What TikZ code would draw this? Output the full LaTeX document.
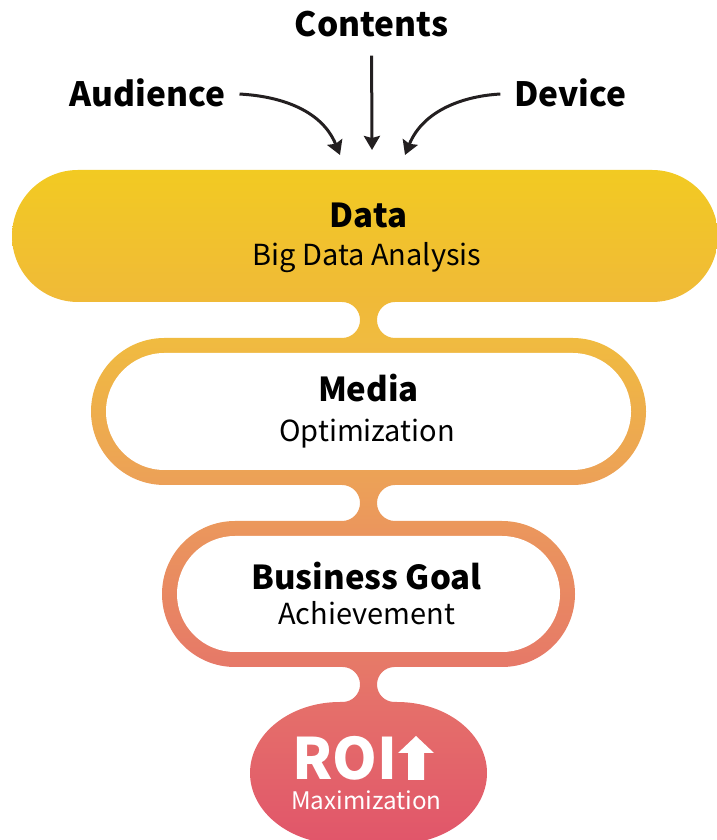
\documentclass[tikz,border=0pt]{standalone}
\usepackage{fontspec}
\setmainfont{Noto Sans CJK KR}
\usetikzlibrary{arrows.meta}
\definecolor{g1}{RGB}{242,202,34}
\definecolor{g2}{RGB}{240,186,56}
\definecolor{g3}{RGB}{240,187,64}
\definecolor{g4}{RGB}{236,160,88}
\definecolor{g5}{RGB}{235,152,92}
\definecolor{g6}{RGB}{230,120,104}
\definecolor{g7}{RGB}{229,112,106}
\definecolor{g8}{RGB}{225,86,106}
\definecolor{ink}{RGB}{35,31,32}
\pgfdeclareverticalshading{flow}{100bp}{color(0bp)=(g8); color(25.3bp)=(g8); color(35.53bp)=(g7); color(38.13bp)=(g6); color(48.96bp)=(g5); color(51.63bp)=(g4); color(62.39bp)=(g3); color(65.36bp)=(g2); color(75bp)=(g1); color(100bp)=(g1)}
% pill: x1,y1,x2,y2,r
\def\pill#1#2#3#4#5{(#1+#5,#2) -- (#3-#5,#2) arc[start angle=-90,end angle=90,radius=#5] -- (#1+#5,#4) arc[start angle=90,end angle=270,radius=#5] -- cycle}
% neck: a,b,Ytop,r
\def\neck#1#2#3#4{(#1-#4,#3+1) -- (#1-#4,#3) arc[start angle=90,end angle=-90,radius=#4] -- (#1-#4,#3-2*#4-1) -- (#2+#4,#3-2*#4-1) -- (#2+#4,#3-2*#4) arc[start angle=270,end angle=90,radius=#4] -- (#2+#4,#3+1) -- cycle}
\tikzset{
  lbl/.style={font=\fontsize{33.5}{38}\selectfont\bfseries, text=black, inner sep=0pt},
  ttl/.style={font=\fontsize{33}{38}\selectfont\bfseries, text=black, inner sep=0pt, anchor=base},
  sub/.style={font=\fontsize{29}{34}\selectfont, text=black, inner sep=0pt, anchor=base},
  arr/.style={draw=ink, line width=3pt, -{Stealth[length=14pt,width=16pt,inset=2pt]}}
}
\begin{document}
\begin{tikzpicture}[x=1pt,y=1pt]
\useasboundingbox (0,0) rectangle (716,840);
% gradient body
\shade[shading=flow]
  \pill{12}{538}{718}{670}{66}
  \neck{360}{377}{538}{18}
  \pill{91}{355}{646}{502}{73.5}
  \neck{360}{377}{355}{18}
  \pill{162}{173}{575}{319}{73}
  \neck{360}{377}{173}{17.5}
  (340,-4) -- (397,-4) arc[start angle=-90,end angle=90,x radius=90,y radius=71] -- (340,138) arc[start angle=90,end angle=270,x radius=90,y radius=71] -- cycle;
% white interiors
\fill[white] \pill{106}{370}{631}{487}{58.5};
\fill[white] \pill{177}{188}{560}{304}{58};
% texts
\node[ttl] (data) at (368.5,612) {Data};
\node[sub] (datas) at (367,574) {Big Data Analysis};
\node[ttl] (media) at (368.5,438) {Media};
\node[sub] (medias) at (367,398) {Optimization};
\node[ttl] (biz) at (366.5,250) {Business Goal};
\node[sub] (bizs) at (366.5,215) {Achievement};
\node[font=\fontsize{57}{60}\selectfont\bfseries, text=white, inner sep=0pt, anchor=base] (roi) at (345,60) {ROI};
\node[font=\fontsize{24.2}{28}\selectfont, text=white, inner sep=0pt, anchor=base] (roim) at (366.5,30) {Maximization};
\fill[white] (416,104) -- (434,87) -- (424,87) -- (424,60) -- (408,60) -- (408,87) -- (398,87) -- cycle;
% inputs
\node[lbl, anchor=base] (cont) at (371.5,803) {Contents};
\node[lbl, anchor=base] (aud) at (147.5,733) {Audience};
\node[lbl, anchor=base] (dev) at (570.5,733) {Device};
\coordinate (tipA) at (340,685);
\coordinate (tipC) at (372,690);
\coordinate (tipD) at (405,685);
\draw[arr, shorten <=18pt] (cont.south) -- (tipC);
\draw[arr, shorten <=14pt] (aud.east) to[out=-3,in=112] (tipA);
\draw[arr, shorten <=14pt] (dev.west) to[out=183,in=68] (tipD);
\end{tikzpicture}
\end{document}
